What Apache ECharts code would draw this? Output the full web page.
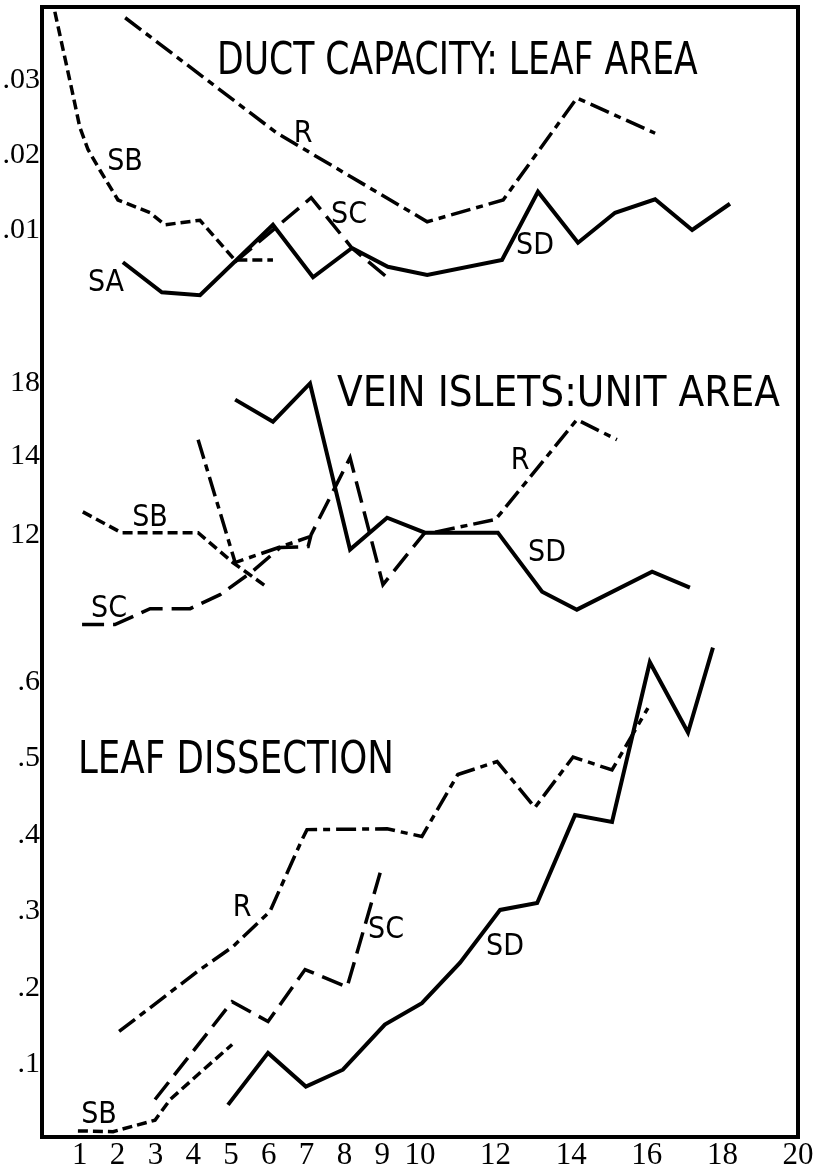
<!DOCTYPE html>
<html>
<head>
<meta charset="utf-8">
<title>Duct capacity, vein islets, leaf dissection</title>
<script src="https://cdn.jsdelivr.net/npm/echarts@6/dist/echarts.min.js"></script>
<style>
  html, body { margin: 0; padding: 0; background: #fff; }
  #main { width: 814px; height: 1173px; }
</style>
</head>
<body>
<div id="main"></div>
<script>
// x: stage number, shared by the three panels
var xTicks = [1, 2, 3, 4, 5, 6, 7, 8, 9, 10, 12, 14, 16, 18, 20];

// panel 1 - duct capacity : leaf area
var ductTicks = [0.01, 0.02, 0.03];
var ductTickLabels = ['.01', '.02', '.03'];
var ductSB = [[0.34, 0.0391], [0.56, 0.034], [0.79, 0.0287], [1.0, 0.0237], [1.22, 0.0207], [1.53, 0.018], [2.01, 0.014], [2.86, 0.0123], [3.25, 0.0107], [4.18, 0.0113], [5.1, 0.006], [6.11, 0.006]];
var ductSC = [[5.1, 0.0057], [7.12, 0.0143], [8.2, 0.0076], [9.15, 0.0036]];
var ductSA = [[2.14, 0.0057], [3.17, 0.0017], [4.18, 0.0013], [6.11, 0.0107], [7.17, 0.0037], [8.2, 0.0076]];
var ductSD = [[8.2, 0.0076], [9.15, 0.0051], [10.19, 0.004], [12.17, 0.006], [13.12, 0.0151], [14.18, 0.0083], [15.16, 0.0123], [16.22, 0.0141], [17.2, 0.01], [18.2, 0.0135]];
var ductR = [[2.2, 0.0383], [6.22, 0.0229], [10.19, 0.0111], [12.2, 0.014], [14.15, 0.0276], [16.22, 0.0229]];

// panel 2 - vein islets : unit area (the drawn "14" sits where 15.1 falls on this scale)
var veinTicks = [12, 15.1, 18];
var veinTickLabels = ['12', '14', '18'];
var veinSB = [[1.08, 12.9], [2.1, 12.08], [4.13, 12.08], [5.05, 10.9], [5.98, 9.9]];
var veinSC = [[1.06, 8.45], [1.93, 8.45], [2.86, 9.08], [3.92, 9.08], [4.71, 9.63], [5.56, 10.54], [6.3, 11.49], [7.04, 11.53], [7.12, 12.0], [8.15, 15.04], [9.02, 10.03], [10.13, 12.08]];
var veinR1 = [[4.13, 15.75], [5.11, 10.9], [7.09, 11.92]];
var veinR2 = [[10.4, 12.1], [12.0, 12.6], [14.15, 16.54], [15.21, 15.75]];
var veinSD = [[5.11, 17.33], [6.11, 16.46], [7.09, 17.97], [8.15, 11.41], [9.13, 12.67], [10.13, 12.08], [12.06, 12.08], [13.23, 9.75], [14.15, 9.04], [16.14, 10.54], [17.14, 9.91]];

// panel 3 - leaf dissection
var dissTicks = [0.1, 0.2, 0.3, 0.4, 0.5, 0.6];
var dissTickLabels = ['.1', '.2', '.3', '.4', '.5', '.6'];
var dissSB = [[0.95, 0.013], [1.88, 0.012], [2.99, 0.027], [3.39, 0.054], [4.18, 0.089], [5.03, 0.126]];
var dissSC = [[2.99, 0.054], [5.03, 0.182], [5.98, 0.156], [6.96, 0.224], [8.07, 0.201], [8.99, 0.358]];
var dissR = [[2.04, 0.143], [4.1, 0.221], [5.05, 0.254], [6.03, 0.3], [6.88, 0.394], [7.01, 0.407], [9.13, 0.408], [10.05, 0.398], [11.0, 0.479], [12.04, 0.496], [13.04, 0.436], [14.05, 0.502], [15.08, 0.485], [16.03, 0.566]];
var dissSD = [[4.92, 0.047], [5.98, 0.115], [6.98, 0.071], [7.96, 0.093], [9.07, 0.152], [10.05, 0.18], [11.06, 0.233], [12.12, 0.302], [13.1, 0.311], [14.1, 0.426], [15.08, 0.417], [16.08, 0.626], [17.09, 0.534], [17.75, 0.645]];

var LETTER = "'Liberation Sans Narrow', 'DejaVu Sans Condensed', 'Liberation Sans', sans-serif";
var NUMBER = "'Liberation Serif', 'DejaVu Serif', serif";

var SOLID = 'solid';
var SHORT = [10, 5];
var LONG = [22, 9];
var DASHDOT = [20, 6, 7, 6];

function line(name, data, axis, type, width) {
  return {
    name: name,
    type: 'line',
    xAxisIndex: axis,
    yAxisIndex: axis,
    data: data,
    symbol: 'none',
    silent: true,
    lineStyle: { color: '#000', width: width || 3.5, type: type, cap: 'butt', join: 'miter' }
  };
}

function tickLabel(ticks, labels) {
  return {
    customValues: ticks,
    formatter: function (v) {
      var best = 0;
      for (var i = 1; i < ticks.length; i++) {
        if (Math.abs(ticks[i] - v) < Math.abs(ticks[best] - v)) best = i;
      }
      return labels[best];
    },
    color: '#000',
    fontSize: 30,
    fontFamily: NUMBER,
    margin: 2
  };
}

function yAxis(grid, min, max, ticks, labels) {
  return {
    type: 'value', gridIndex: grid, min: min, max: max,
    axisLine: { show: false }, axisTick: { show: false }, splitLine: { show: false },
    axisLabel: tickLabel(ticks, labels)
  };
}

function xAxis(grid, showLabels) {
  return {
    type: 'value', gridIndex: grid, min: 0, max: 20,
    axisLine: { show: false }, axisTick: { show: false }, splitLine: { show: false },
    axisLabel: showLabels ? {
      customValues: xTicks, color: '#000', fontSize: 31, fontFamily: NUMBER, margin: 3
    } : { show: false }
  };
}

function word(text, x, y, size, align, sx, sy) {
  return {
    type: 'text', x: x, y: y, scaleX: sx || 1, scaleY: sy || 1, silent: true,
    style: { text: text, fill: '#000', fontSize: size, fontFamily: LETTER, align: align || 'center', verticalAlign: 'middle' }
  };
}

var myChart = echarts.init(document.getElementById('main'));

var option = {
  animation: false,
  backgroundColor: '#fff',
  grid: [
    { left: 42, right: 16, top: 7, bottom: 36, show: true, borderColor: '#000', borderWidth: 4, backgroundColor: 'transparent', outerBoundsMode: 'none' },
    { left: 42, right: 16, top: 5, height: 300, outerBoundsMode: 'none' },
    { left: 42, right: 16, top: 332, height: 304, outerBoundsMode: 'none' },
    { left: 42, right: 16, top: 640, height: 497, outerBoundsMode: 'none' }
  ],
  xAxis: [xAxis(0, false), xAxis(1, false), xAxis(2, false), xAxis(3, true)],
  yAxis: [
    { type: 'value', gridIndex: 0, min: 0, max: 1, show: false },
    yAxis(1, 0, 0.04, ductTicks, ductTickLabels),
    yAxis(2, 8, 20, veinTicks, veinTickLabels),
    yAxis(3, 0.005, 0.655, dissTicks, dissTickLabels)
  ],
  graphic: [
    word('DUCT CAPACITY: LEAF AREA', 217, 62, 37, 'left', 1.04, 1.2),
    word('VEIN ISLETS:UNIT AREA', 337, 395, 37, 'left', 1.13, 1.15),
    word('LEAF DISSECTION', 78, 762, 37, 'left', 1.07, 1.18),
    word('SB', 125, 162, 30), word('SA', 106, 283, 30), word('R', 303, 134, 30),
    word('SC', 349, 215, 30), word('SD', 535, 246, 30),
    word('SB', 150, 518, 30), word('SC', 109, 609, 30), word('R', 520, 461, 30), word('SD', 547, 553, 30),
    word('R', 242, 908, 30), word('SC', 386, 930, 30), word('SD', 505, 947, 30), word('SB', 99, 1115, 30)
  ],
  series: [
    line('SB', ductSB, 1, SHORT),
    line('SC', ductSC, 1, LONG),
    line('SA', ductSA, 1, SOLID, 4),
    line('SD', ductSD, 1, SOLID, 4),
    line('R', ductR, 1, DASHDOT),

    line('SB', veinSB, 2, SHORT),
    line('SC', veinSC, 2, LONG),
    line('R', veinR1, 2, DASHDOT),
    line('R', veinR2, 2, DASHDOT),
    line('SD', veinSD, 2, SOLID, 4),

    line('SB', dissSB, 3, SHORT),
    line('SC', dissSC, 3, LONG),
    line('R', dissR, 3, DASHDOT),
    line('SD', dissSD, 3, SOLID, 4)
  ]
};

myChart.setOption(option);
</script>
</body>
</html>
